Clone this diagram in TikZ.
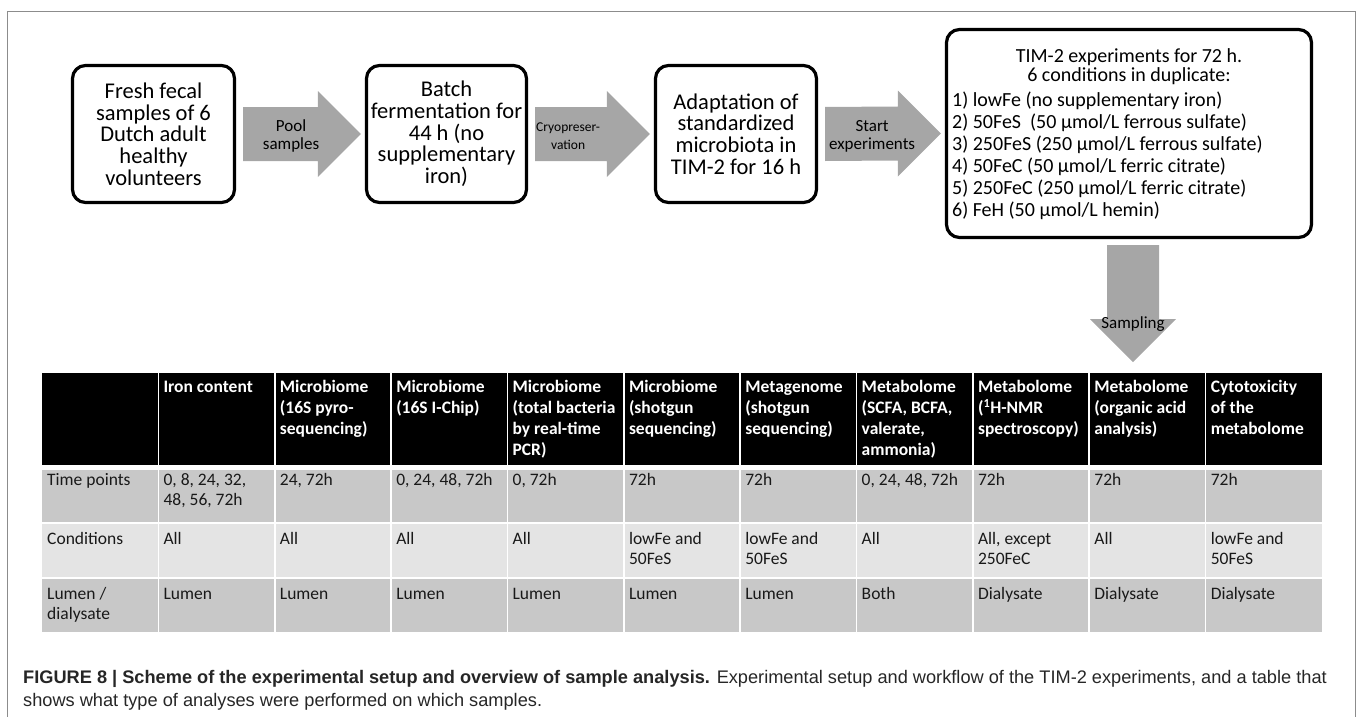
\documentclass[tikz,border=0pt]{standalone}
\usepackage{fontspec}
\setmainfont{Carlito}
\newfontfamily\capfont{Liberation Sans}
\usetikzlibrary{calc}
\setlength{\lineskiplimit}{-100pt}

\definecolor{arrowgrey}{HTML}{A6A6A6}
\definecolor{framegrey}{HTML}{8C8C8C}
\definecolor{rowdark}{HTML}{C8C8C8}
\definecolor{rowlight}{HTML}{E4E4E4}

\newcommand{\colw}{116.36}
% grey block arrow between two boxes
\newcommand{\blockarrow}[2]{%
  \fill[arrowgrey] ($(#1.east)+(7,-27)$) -- ($(#2.west)+(-47,-27)$) -- ($(#2.west)+(-47,-43)$)
    -- ($(#2.west)+(-4,0)$) -- ($(#2.west)+(-47,43)$) -- ($(#2.west)+(-47,27)$)
    -- ($(#1.east)+(7,27)$) -- cycle;}

\tikzset{
  stagebox/.style={draw=black, line width=3.2pt, rounded corners=13pt, fill=white,
    align=center, inner sep=0pt, minimum height=137pt,
    font=\fontsize{22.5}{21.7}\selectfont},
  arrowlabel/.style={align=center, inner sep=0pt, font=\fontsize{17}{18}\selectfont},
  headtext/.style={anchor=north west, align=left, inner sep=0pt, text=white,
    font=\bfseries\fontsize{17.5}{21}\selectfont},
  celltext/.style={anchor=north west, align=left, inner sep=0pt, text=black!90,
    font=\fontsize{17.5}{20}\selectfont},
  captext/.style={anchor=base west, inner sep=0pt, text=black!85,
    font=\capfont\fontsize{18.2}{23}\selectfont},
}

\begin{document}
\begin{tikzpicture}[x=1pt, y=-1pt]
\useasboundingbox (0,0) rectangle (1357,717);
\draw[framegrey, line width=1pt] (7,717) -- (7,12) -- (1355,12) -- (1355,717);

% workflow
\node[stagebox, minimum width=162pt] (fecal) at (153.5,134) {Fresh fecal\\samples of 6\\Dutch adult\\healthy\\volunteers};
\node[stagebox, minimum width=160pt] (batch) at (446.5,134) {Batch\\fermentation for\\44 h (no\\supplementary\\iron)};
\node[stagebox, minimum width=161pt] (adapt) at (736,134) {Adaptation of\\standardized\\microbiota in\\TIM-2 for 16 h};
\node[stagebox, minimum width=365pt, minimum height=208pt] (tim) at (1129,133.5) {};
\node[anchor=north, align=center, inner sep=0pt, font=\fontsize{20}{19}\selectfont] (timhead)
  at ($(tim.north)+(0,21)$) {TIM-2 experiments for 72 h.\\6 conditions in duplicate:};
\node[anchor=north west, align=left, inner sep=0pt, font=\fontsize{20}{22}\selectfont] (timlist)
  at ($(tim.north west)+(7,64)$) {1) lowFe (no supplementary iron)\\2) 50FeS~ (50 µmol/L ferrous sulfate)\\3) 250FeS (250 µmol/L ferrous sulfate)\\4) 50FeC (50 µmol/L ferric citrate)\\5) 250FeC (250 µmol/L ferric citrate)\\6) FeH (50 µmol/L hemin)};

\blockarrow{fecal}{batch}
\blockarrow{batch}{adapt}
\blockarrow{adapt}{tim}
\node[arrowlabel] (poollabel) at ($(fecal.east)+(55,2)$) {Pool\\samples};
\node[arrowlabel, font=\fontsize{13.5}{18}\selectfont] (cryolabel) at ($(batch.east)+(40,2)$) {Cryopreser-\\vation};
\node[arrowlabel] (startlabel) at ($(adapt.east)+(54,2)$) {Start\\experiments};

% sampling arrow
\fill[arrowgrey] ($(tim.south)+(-22,6)$) -- ($(tim.south)+(-22,80)$) -- ($(tim.south)+(-39,80)$)
  -- ($(tim.south)+(4,123)$) -- ($(tim.south)+(47,80)$) -- ($(tim.south)+(30,80)$)
  -- ($(tim.south)+(30,6)$) -- cycle;
\node[arrowlabel] (samplinglabel) at ($(tim.south)+(4,85)$) {Sampling};

% table
\fill[black] (42,373) rectangle (1322,465);
\fill[rowdark] (42,470) rectangle (1322,522);
\fill[rowlight] (42,524) rectangle (1322,577);
\fill[rowdark] (42,579) rectangle (1322,632);
\foreach \c in {1,...,10}
  \draw[white, line width=1.6pt] (42+\c*\colw,373) -- (42+\c*\colw,632);

\foreach \txt [count=\c] in {{Iron content}, {Microbiome\\(16S pyro-\\sequencing)}, {Microbiome\\(16S I-Chip)},
    {Microbiome\\(total bacteria\\by real-time\\PCR)}, {Microbiome\\(shotgun\\sequencing)},
    {Metagenome\\(shotgun\\sequencing)}, {Metabolome\\(SCFA, BCFA,\\valerate,\\ammonia)},
    {Metabolome\\(\textsuperscript{1}H-NMR\\spectroscopy)}, {Metabolome\\(organic acid\\analysis)},
    {Cytotoxicity\\of the\\metabolome}}
  \node[headtext] (head\c) at (42+\c*\colw+5,378) {\strut\txt};

\node[celltext] (timelabel) at (47,471) {\strut Time points};
\node[celltext] (condlabel) at (47,530) {\strut Conditions};
\node[celltext] (lumenlabel) at (47,585) {\strut Lumen /\\dialysate};

\foreach \txt [count=\c] in {{0, 8, 24, 32,\\48, 56, 72h}, {24, 72h}, {0, 24, 48, 72h}, {0, 72h}, 72h, 72h,
    {0, 24, 48, 72h}, 72h, 72h, 72h}
  \node[celltext] (time\c) at (42+\c*\colw+5,471) {\strut\txt};
\foreach \txt [count=\c] in {All, All, All, All, {lowFe and\\50FeS}, {lowFe and\\50FeS}, All,
    {All, except\\250FeC}, All, {lowFe and\\50FeS}}
  \node[celltext] (cond\c) at (42+\c*\colw+5,530) {\strut\txt};
\foreach \txt [count=\c] in {Lumen, Lumen, Lumen, Lumen, Lumen, Lumen, Both, Dialysate, Dialysate, Dialysate}
  \node[celltext] (lumen\c) at (42+\c*\colw+5,585) {\strut\txt};

% caption
\node[captext] (caption1) at (23,683) {\textbf{FIGURE 8 | Scheme of the experimental setup and overview of sample analysis.} Experimental setup and workflow of the TIM-2 experiments, and a table that};
\node[captext] (caption2) at (23,706) {shows what type of analyses were performed on which samples.};
\end{tikzpicture}
\end{document}
